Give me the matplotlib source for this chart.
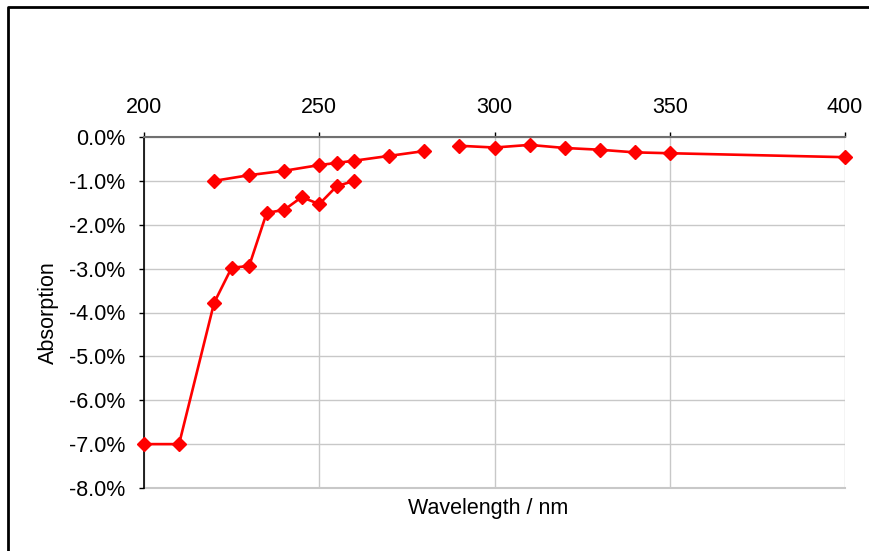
import matplotlib
matplotlib.use("Agg")
import matplotlib.pyplot as plt
from matplotlib.lines import Line2D
from matplotlib.ticker import FuncFormatter, MultipleLocator

plt.rcParams['font.family'] = ['Liberation Sans', 'DejaVu Sans']

# Wavelength scans (nm) and absorption (%)
wl_short = [200, 210, 220, 225, 230, 235, 240, 245, 250, 255, 260]
abs_short = [-7.0, -7.0, -3.78, -2.98, -2.94, -1.73, -1.66, -1.37, -1.53, -1.12, -1.0]

wl_mid = [220, 230, 240, 250, 255, 260, 270, 280]
abs_mid = [-1.0, -0.87, -0.77, -0.64, -0.59, -0.54, -0.43, -0.32]

wl_long = [290, 300, 310, 320, 330, 340, 350, 400]
abs_long = [-0.20, -0.24, -0.18, -0.25, -0.29, -0.35, -0.37, -0.46]

x_ticks = [200, 250, 300, 350, 400]

FS = 15.5
W, H = 869, 551
fig = plt.figure(figsize=(W / 100, H / 100), dpi=100)
ax = fig.add_axes([144 / W, 1 - 488 / H, (845 - 144) / W, (488 - 137) / H])

style = dict(color='#ff0000', lw=1.9, marker='D', ms=7.5, mec='#ff0000', mfc='#ff0000',
             clip_on=False, zorder=5)
for xs, ys in [(wl_short, abs_short), (wl_mid, abs_mid), (wl_long, abs_long)]:
    ax.plot(xs, ys, **style)

ax.set_xlim(200, 400)
ax.set_ylim(-8, 0)
ax.set_xticks(x_ticks)
ax.yaxis.set_major_locator(MultipleLocator(1))
ax.yaxis.set_major_formatter(FuncFormatter(lambda v, p: f"{v:.1f}%"))

ax.xaxis.tick_top()
ax.tick_params(axis='x', direction='out', length=3.5, width=1, color='#000000',
               pad=10.5, labelsize=FS)
ax.tick_params(axis='y', direction='out', length=3.5, width=1, color='#000000',
               pad=10, labelsize=FS)

ax.grid(True, color='#c8c8c8', lw=1)
ax.set_axisbelow(True)
ax.axhline(-8, color='#c8c8c8', lw=1.5, clip_on=False, zorder=0.5)

for s in ['bottom', 'right']:
    ax.spines[s].set_visible(False)
ax.spines['top'].set_color('#707070')
ax.spines['top'].set_linewidth(1.5)
ax.spines['left'].set_color('#000000')
ax.spines['left'].set_linewidth(1.2)

ax.set_xlabel('Wavelength / nm', fontsize=FS)
ax.xaxis.set_label_position('bottom')
ax.xaxis.set_label_coords((488.5 - 144) / 701, (488 - 498) / 351)
ax.set_ylabel('Absorption', fontsize=FS)
ax.yaxis.set_label_coords((59 - 144) / 701, 0.5)

# outer chart frame
fx = 8 / W
fy = 1 - 7 / H
fig.add_artist(Line2D([fx, fx, 1.0], [0.0, fy, fy], transform=fig.transFigure,
                      color='black', lw=2))

fig.savefig('out.png', dpi=100)
